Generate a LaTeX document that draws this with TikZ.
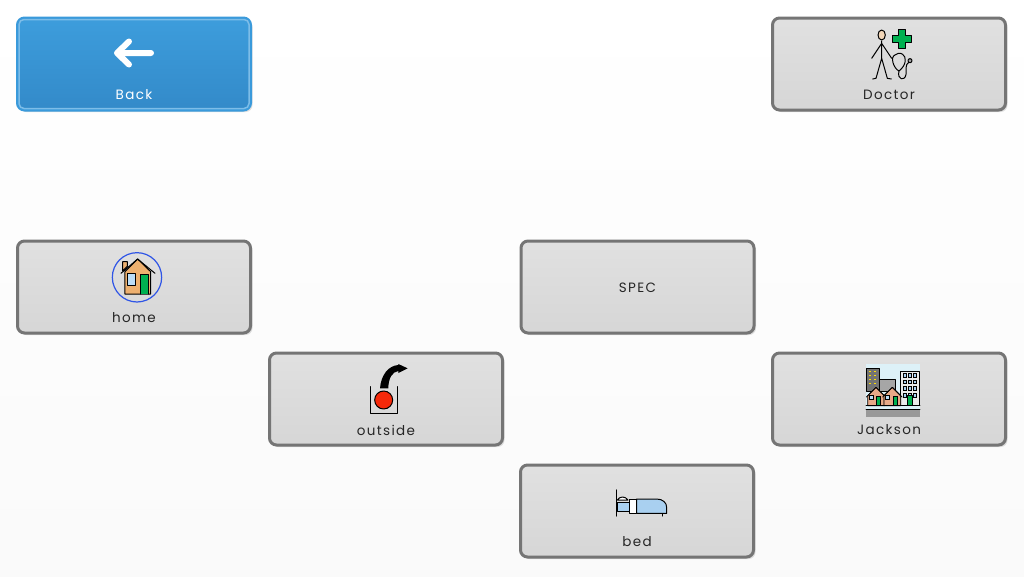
\documentclass[tikz,border=0pt]{standalone}
\usepackage{fontspec}
\setmainfont[LetterSpace=10]{Poppins}
\usetikzlibrary{shadows}
\definecolor{btnedge}{HTML}{757575}
\definecolor{backedge}{HTML}{3A9ADB}
\definecolor{backline}{HTML}{7DBDE8}
\definecolor{backtop}{HTML}{3D9DDC}
\definecolor{backbot}{HTML}{338AC9}
\definecolor{skin}{HTML}{F2D6B8}
\definecolor{crossgreen}{HTML}{00B050}
\definecolor{wall}{HTML}{EDB06F}
\definecolor{pane}{HTML}{BBDDF7}
\definecolor{ringblue}{HTML}{2F55E6}
\definecolor{ballred}{HTML}{F5290A}
\definecolor{sky}{HTML}{DDF1F8}
\definecolor{brick}{HTML}{E8A988}
\definecolor{sheet}{HTML}{A9D0F0}
\tikzset{
  btnbase/.style={rounded corners=7pt, minimum width=233pt, minimum height=92pt, line width=3pt,
    drop shadow={shadow xshift=2pt, shadow yshift=-2pt, fill=black, opacity=.12}},
  button/.style={btnbase, draw=btnedge, top color=black!12, bottom color=black!16},
  backbtn/.style={btnbase, draw=backedge, top color=backtop, bottom color=backbot},
  caption/.style={font=\fontsize{13.5}{15}\selectfont, text=black!85, inner sep=0pt},
  icon/.style={line width=1pt, line join=round, line cap=round}
}
\begin{document}
\begin{tikzpicture}[x=1pt,y=-1pt]
  \useasboundingbox (0,0) rectangle (1024,576);
  \shade[top color=white, bottom color=black!2] (0,0) rectangle (1024,576);

  % buttons
  \node[backbtn] (back) at (134,64) {};
  \draw[backline, line width=1.5pt, rounded corners=5pt]
    ([xshift=3pt,yshift=-3pt]back.north west) rectangle ([xshift=-3pt,yshift=3pt]back.south east);
  \node[caption, text=white] (backtext) at (134,95) {Back};
  \foreach \bname/\bx/\by/\btext in {doctor/889/64/Doctor, home/134/287/home, outside/386/399/outside,
      jackson/889/399/Jackson, bed/637/511/bed} {
    \node[button] (\bname) at (\bx,\by) {};
    \node[caption] (\bname text) at ([yshift=-31pt]\bname.center) {\btext};
  }
  \node[button] (spec) at (637.5,287) {};
  \node[caption] (spectext) at ([yshift=-1pt]spec.center) {SPEC};

  % back arrow
  \draw[white, line width=6pt, line cap=round, line join=round]
    (151,53) -- (117,53) (129,41.5) -- (117,53) -- (129,64.5);

  % doctor
  \begin{scope}[shift={(840,15)}, scale=0.3333, icon]
    \draw (125,78) -- (125,130) (95,130) -- (125,85) -- (155,130);
    \draw (98,192) -- (108,190) -- (125,130) -- (142,190) -- (154,192);
    \draw[fill=skin] (125,60) ellipse (11 and 15);
    \draw[fill=crossgreen] (176,44) -- (196,44) -- (196,62) -- (214,62) -- (214,83) -- (196,83)
      -- (196,102) -- (176,102) -- (176,83) -- (158,83) -- (158,62) -- (176,62) -- cycle;
    \draw (165,120) .. controls (150,125) and (160,160) .. (177,168)
      .. controls (200,150) and (200,125) .. (188,118) .. controls (180,112) and (170,115) .. (165,120);
    \draw (177,168) .. controls (170,195) and (195,200) .. (198,178) .. controls (200,160) and (195,150) .. (206,142);
    \draw[fill=black!35] (210,137) circle (6);
  \end{scope}

  % home
  \begin{scope}[shift={(90,245)}, scale=0.3333, icon]
    \draw[ringblue, line width=1.2pt] (141,97) circle (74);
    \draw[fill=wall] (98,78) -- (98,50) -- (112,50) -- (112,64) -- cycle;
    \draw[fill=wall] (105,80) -- (105,147) -- (182,147) -- (182,80) -- (143,42) -- cycle;
    \draw (93,85) -- (143,42) -- (195,85);
    \draw[fill=pane] (112,86) rectangle (137,122);
    \draw[fill=crossgreen] (151,147) -- (151,87) -- (175,87) -- (175,147);
  \end{scope}

  % outside
  \begin{scope}[shift={(345,355)}, scale=0.3333, icon]
    \draw (75,95) -- (75,175) -- (158,175) -- (158,95);
    \fill (105,100) .. controls (108,60) and (130,32) .. (160,30) -- (160,27) -- (188,40) -- (160,54) -- (160,48)
      .. controls (142,50) and (130,70) .. (130,100) -- cycle;
    \draw[fill=ballred] (116,135) circle (27);
  \end{scope}

  % jackson
  \begin{scope}[shift={(850,355)}, scale=0.3333]
    \fill[sky] (48,27) rectangle (210,163);
    \fill[black!40] (48,163) rectangle (210,185);
    \draw[icon, line width=.8pt] (48,163) -- (210,163);
    \draw[icon, line width=.8pt, fill=black!55] (50,40) rectangle (87,110);
    \foreach \wy in {47,59,71,83} {
      \fill[yellow!80!orange] (57,\wy) rectangle (64,\wy+5);
      \fill[yellow!80!orange] (72,\wy) rectangle (79,\wy+5);
    }
    \draw[icon, line width=.8pt, fill=black!35] (87,72) rectangle (135,110);
    \draw[icon, line width=.8pt, fill=black!8] (152,48) rectangle (207,152);
    \foreach \wy in {55,75,95,115} \foreach \wx in {159,174,190}
      \draw[line width=.4pt, fill=sheet] (\wx,\wy) rectangle +(9,11);
    \draw[icon, line width=.8pt, fill=crossgreen] (172,152) rectangle (187,122);
    \foreach \hx in {78,127} {
      \draw[icon, line width=.8pt, fill=brick] (\hx-25,152) -- (\hx-25,122) -- (\hx,97) -- (\hx+25,122) -- (\hx+25,152) -- cycle;
      \draw[icon, line width=.8pt] (\hx-29,126) -- (\hx,97) -- (\hx+29,126);
      \draw[line width=.4pt, fill=pane] (\hx-20,122) rectangle +(11,11);
      \draw[line width=.4pt, fill=crossgreen] (\hx+2,152) rectangle +(12,-28);
    }
    \draw[icon, line width=.8pt] (48,152) -- (210,152);
  \end{scope}

  % bed
  \begin{scope}[shift={(600,480)}, scale=0.3333, icon]
    \draw[fill=white] (52,60) .. controls (60,48) and (75,48) .. (84,60) -- cycle;
    \draw[fill=sheet] (52,68) rectangle (88,95);
    \draw[line width=1.4pt] (50,30) -- (50,108);
    \draw (188,100) -- (188,108);
    \draw[fill=white] (88,58) rectangle (110,100);
    \draw[fill=sheet] (110,57) -- (170,57) .. controls (188,57) and (200,68) .. (200,82) -- (200,100) -- (110,100) -- cycle;
  \end{scope}
\end{tikzpicture}
\end{document}
